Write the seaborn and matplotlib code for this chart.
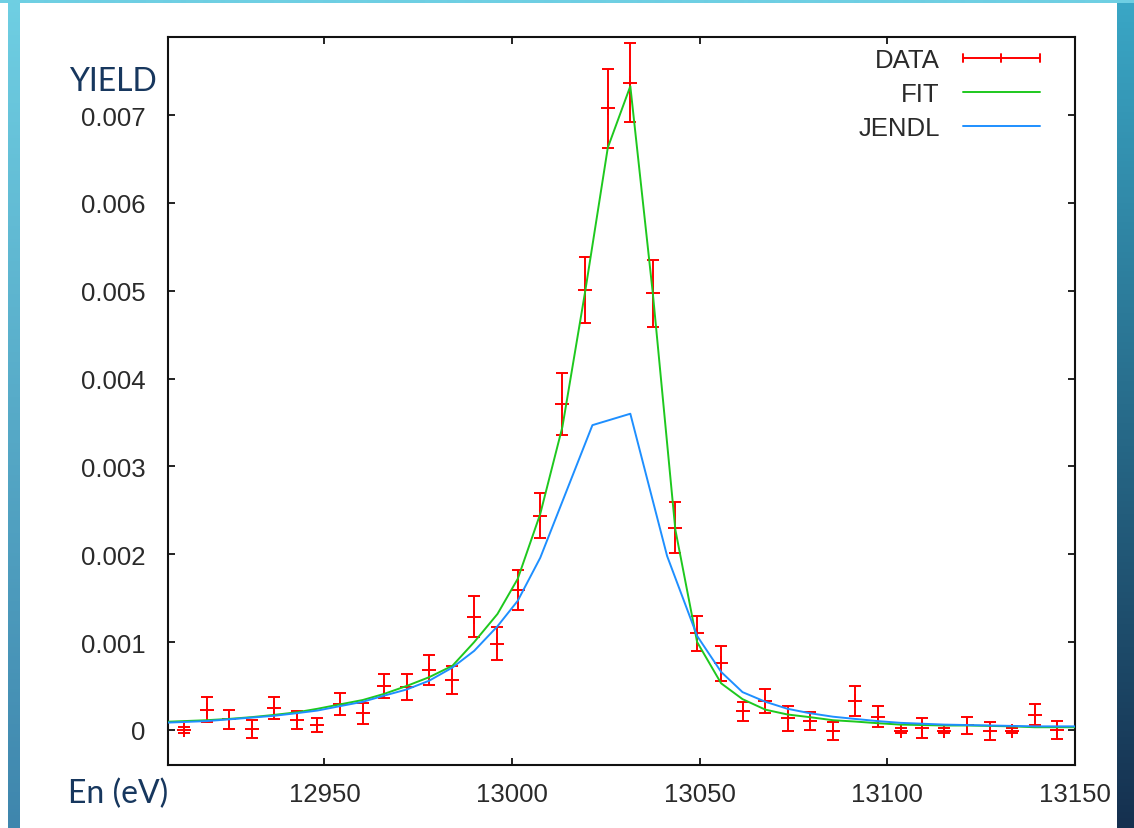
import numpy as np
import pandas as pd
import matplotlib
matplotlib.use("Agg")
import matplotlib.pyplot as plt
import seaborn as sns
from matplotlib.lines import Line2D
from matplotlib.legend_handler import HandlerBase
from matplotlib.container import ErrorbarContainer
from matplotlib.colors import LinearSegmentedColormap

# ---------------- data ----------------
energy = [12912.6, 12918.6, 12924.6, 12930.6, 12936.5, 12942.6, 12948.1, 12954.1,
          12960.2, 12965.9, 12971.9, 12977.9, 12984.1, 12989.9, 12996.1, 13001.5,
          13007.5, 13013.4, 13019.5, 13025.5, 13031.5, 13037.5, 13043.5, 13049.3,
          13055.7, 13061.4, 13067.5, 13073.4, 13079.3, 13085.5, 13091.3, 13097.4,
          13103.5, 13109.3, 13115.2, 13121.3, 13127.3, 13133.3, 13139.3, 13145.3]
yield_data = [0.00000, 0.00023, 0.00012, 0.00001, 0.00025, 0.00011, 0.00006, 0.00030,
              0.00019, 0.00050, 0.00049, 0.00068, 0.00057, 0.00129, 0.00098, 0.00159,
              0.00244, 0.00371, 0.00501, 0.00708, 0.00737, 0.00497, 0.00230, 0.00110,
              0.00076, 0.00021, 0.00033, 0.00013, 0.00010, -0.00001, 0.00033, 0.00015,
              -0.00001, 0.00002, -0.00001, 0.00005, -0.00001, -0.00001, 0.00017, 0.00000]
yield_err = [0.00003, 0.00014, 0.00011, 0.00010, 0.000125, 0.00010, 0.00008, 0.000125,
             0.00012, 0.00014, 0.00015, 0.00017, 0.00016, 0.00023, 0.00019, 0.000225,
             0.00026, 0.00035, 0.00038, 0.00045, 0.00045, 0.00038, 0.00029, 0.00020,
             0.00020, 0.00011, 0.00014, 0.00014, 0.00010, 0.00010, 0.00017, 0.00012,
             0.00003, 0.00011, 0.00003, 0.00010, 0.00010, 0.00003, 0.00012, 0.00010]

fit_energy = [12906.6, 12912.6, 12918.6, 12924.6, 12930.6, 12936.5, 12942.6, 12948.1,
              12954.1, 12960.2, 12965.9, 12971.9, 12977.9, 12984.1, 12989.9, 12996.1,
              13001.5, 13007.5, 13013.4, 13019.5, 13025.5, 13031.5, 13037.5, 13043.5,
              13049.3, 13055.7, 13061.4, 13067.5, 13073.4, 13079.3, 13085.5, 13091.3,
              13097.4, 13103.5, 13109.3, 13115.2, 13121.3, 13127.3, 13133.3, 13139.3,
              13145.3, 13151.3]
fit_yield = [0.00009, 0.00010, 0.00011, 0.000125, 0.000145, 0.00017, 0.00020, 0.00024,
             0.00029, 0.00034, 0.00041, 0.00050, 0.00060, 0.00073, 0.00100, 0.00132,
             0.00172, 0.00246, 0.00345, 0.00500, 0.00663, 0.00733, 0.00497, 0.00228,
             0.00100, 0.00053, 0.00035, 0.00023, 0.000175, 0.000145, 0.00011, 0.000095,
             0.000076, 0.00006, 0.000055, 0.00005, 0.00005, 0.000045, 0.00004, 0.00003,
             0.00003, 0.00003]

jendl_energy = [12906.6, 12912.6, 12918.6, 12924.6, 12930.6, 12936.5, 12942.6, 12948.1,
                12954.1, 12960.2, 12965.9, 12971.9, 12977.9, 12984.1, 12989.9, 12996.1,
                13001.5, 13007.5, 13021.4, 13031.5, 13041.3, 13049.3, 13055.7, 13061.4,
                13067.5, 13073.4, 13079.3, 13085.5, 13091.3, 13097.4, 13103.5, 13109.3,
                13115.2, 13121.3, 13127.3, 13133.3, 13139.3, 13145.3, 13151.3]
jendl_yield = [0.00008, 0.00009, 0.00010, 0.00012, 0.00014, 0.00016, 0.00019, 0.00022,
               0.00027, 0.00032, 0.00039, 0.00046, 0.00056, 0.00071, 0.00090, 0.00118,
               0.00147, 0.00196, 0.00347, 0.00360, 0.00198, 0.00107, 0.00066, 0.00043,
               0.00032, 0.00024, 0.00019, 0.00015, 0.000125, 0.00010, 0.00008, 0.00007,
               0.00006, 0.000055, 0.00005, 0.000045, 0.00004, 0.00004, 0.00004]

x_ticks = [12950, 13000, 13050, 13100, 13150]
y_ticks = [0, 0.001, 0.002, 0.003, 0.004, 0.005, 0.006, 0.007]
y_tick_labels = ["0", "0.001", "0.002", "0.003", "0.004", "0.005", "0.006", "0.007"]

# ---------------- style ----------------
sns.set_theme(style="ticks")
plt.rcParams["font.family"] = ["Liberation Sans", "DejaVu Sans"]

W, H = 1134, 829
fig = plt.figure(figsize=(W / 100, H / 100), dpi=100)
fig.patch.set_facecolor("white")

# slide decorations
def grad_axes(rect, c_top, c_bot):
    a = fig.add_axes(rect)
    cmap = LinearSegmentedColormap.from_list("g", [c_top, c_bot])
    a.imshow(np.linspace(0, 1, 256).reshape(-1, 1), aspect="auto", cmap=cmap)
    a.set_axis_off()
    return a

grad_axes([8 / W, 0, 12 / W, 1], "#6fcfe3", "#3f86ad")
grad_axes([1117 / W, 0, 17 / W, 1], "#3aa7c6", "#15304f")
grad_axes([0, 1 - 4 / H, 1, 4 / H], "#6fcfe3", "#6fcfe3")

ax = fig.add_axes([168 / W, 1 - 766 / H, 907 / W, 728 / H])
ax.set_facecolor("white")

df_fit = pd.DataFrame({"E": fit_energy, "Y": fit_yield})
df_jendl = pd.DataFrame({"E": jendl_energy, "Y": jendl_yield})

eb = ax.errorbar(energy, yield_data, yerr=yield_err, fmt="+", color="#ff0000",
                 ecolor="#ff0000", elinewidth=1.4, capsize=4, capthick=1.4,
                 markersize=10, markeredgewidth=1.4, label="DATA", zorder=2)
sns.lineplot(data=df_fit, x="E", y="Y", ax=ax, color="#1ec81e", lw=1.4,
             sort=False, estimator=None, label="FIT", zorder=3)
sns.lineplot(data=df_jendl, x="E", y="Y", ax=ax, color="#1e8fff", lw=1.4,
             sort=False, estimator=None, label="JENDL", zorder=4)

ax.set_xlim(12908.3, 13150)
ax.set_ylim(-0.0004, 0.00789)
ax.set_xticks(x_ticks)
ax.set_xticklabels([str(t) for t in x_ticks])
ax.set_yticks(y_ticks)
ax.set_yticklabels(y_tick_labels)
ax.set_xlabel("")
ax.set_ylabel("")

for s in ax.spines.values():
    s.set_visible(True)
    s.set_color("#111111")
    s.set_linewidth(1.5)
ax.tick_params(axis="both", which="both", direction="in", length=5, width=1.3,
               color="#111111", top=True, right=True, labelsize=18.5,
               labelcolor="#2a2a2a")
ax.tick_params(axis="x", pad=12)
ax.tick_params(axis="y", pad=16)


class ErrBarHandler(HandlerBase):
    def create_artists(self, legend, orig_handle, xdescent, ydescent, width,
                       height, fontsize, trans):
        y = height / 2 - ydescent
        x0 = -xdescent
        x1 = x0 + width
        arts = [Line2D([x0, x1], [y, y], color="#ff0000", lw=1.4)]
        for xx in (x0, (x0 + x1) / 2, x1):
            arts.append(Line2D([xx, xx], [y - 3, y + 3], color="#ff0000", lw=1.4))
        for a in arts:
            a.set_transform(trans)
        return arts


handles, labels = ax.get_legend_handles_labels()
order = [labels.index(k) for k in ["DATA", "FIT", "JENDL"]]
leg = ax.legend([handles[i] for i in order], [labels[i] for i in order],
                loc="upper right", bbox_to_anchor=(872 / 907, 1 - 11 / 728),
                frameon=False, markerfirst=False, fontsize=18.5,
                handlelength=3.0, handletextpad=0.9, labelspacing=0.38,
                borderpad=0, borderaxespad=0,
                handler_map={ErrorbarContainer: ErrBarHandler()})
for t in leg.get_texts():
    t.set_color("#2a2a2a")

fig.text(69 / W, 1 - 91 / H, "YIELD", fontsize=23, color="#17375e",
         family=["Lato", "DejaVu Sans"], ha="left", va="baseline")
fig.text(68 / W, 1 - 803 / H, "En (eV)", fontsize=23, color="#17375e",
         family=["Lato", "DejaVu Sans"], ha="left", va="baseline")

fig.savefig("out.png", dpi=100)
